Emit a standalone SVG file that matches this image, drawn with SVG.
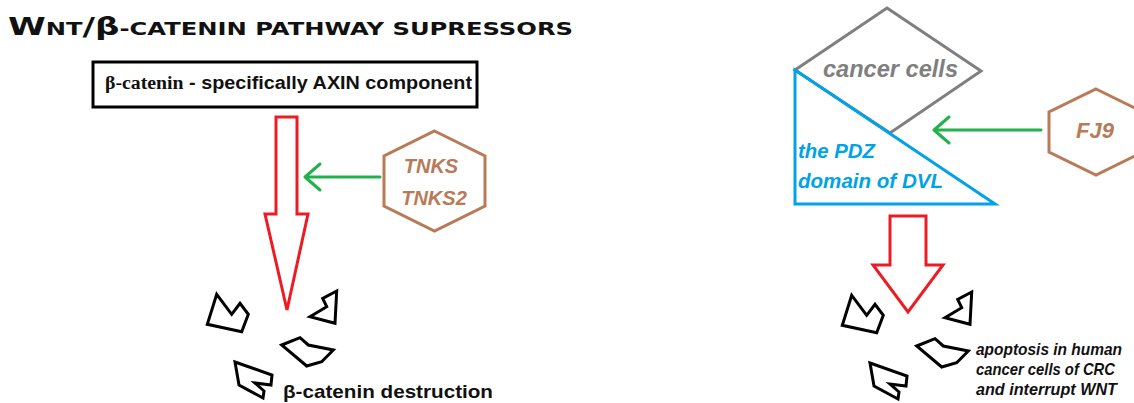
<svg xmlns="http://www.w3.org/2000/svg" width="1134" height="403" viewBox="0 0 1134 403">
<style>
.red{fill:none;stroke:#ed1c24;stroke-width:3;stroke-linejoin:miter}
.grn{fill:none;stroke:#22b14c;stroke-width:3;stroke-linecap:round;stroke-linejoin:round}
.hex{fill:none;stroke:#b97a57;stroke-width:3}
.pc{fill:none;stroke:#000;stroke-width:3;stroke-linejoin:miter}
.lbl{font-family:"Liberation Sans","Open Sans",sans-serif;font-weight:bold;font-style:italic}
.sans{font-family:"Liberation Sans","Open Sans",sans-serif;font-weight:bold}
</style>
<defs>
<g id="pieces" class="pc">
<polygon points="216.7,294.3 231.7,314.3 240,303.3 248.3,314.3 241.7,331.7 207.3,324.3"/>
<polygon points="336.7,291 322.7,298.3 326.7,306.7 310,316.7 335,323.3"/>
<polygon points="281.7,345 300,337.7 308.3,345 333.3,350 321.7,361.7 306.7,366"/>
<polygon points="235,362 272,375 271,385 255,383 264,391 263,398 239,385"/>
</g>
</defs>
<rect width="1134" height="403" fill="#fff"/>

<g id="title">
<text x="8" y="35" font-family="DejaVu Sans,sans-serif" font-weight="bold" fill="#111" textLength="565" lengthAdjust="spacingAndGlyphs"><tspan font-size="24">W</tspan><tspan font-size="17">NT</tspan><tspan font-size="24">/β</tspan><tspan font-size="17">-CATENIN PATHWAY SUPRESSORS</tspan></text>
</g>

<g id="node-axin">
<rect x="93" y="62" width="384" height="45" fill="#fff" stroke="#000" stroke-width="3"/>
<text x="105" y="89" font-size="18" fill="#111" textLength="367" lengthAdjust="spacingAndGlyphs"><tspan font-family="Liberation Serif,serif" font-weight="bold">β-catenin</tspan><tspan class="sans"> - specifically AXIN component</tspan></text>
</g>

<g id="node-tnks">
<polygon class="hex" points="434.5,131 485,156 485,206 434.5,231 384,206 384,156"/>
<text class="lbl" x="431" y="173" font-size="20" fill="#b97a57" text-anchor="middle">TNKS</text>
<text class="lbl" x="434" y="205" font-size="20" fill="#b97a57" text-anchor="middle">TNKS2</text>
</g>

<g id="node-destruction-left">
<use href="#pieces"/>
<text class="sans" x="283" y="398" font-size="19" fill="#111" textLength="210" lengthAdjust="spacingAndGlyphs">β-catenin destruction</text>
</g>

<g id="node-cancer-cells">
<polygon points="887,8 981,71 890,133 795,70" fill="none" stroke="#7f7f7f" stroke-width="3"/>
<text class="lbl" x="823" y="77" font-size="24" fill="#7f7f7f" textLength="135" lengthAdjust="spacingAndGlyphs">cancer cells</text>
</g>

<g id="node-pdz">
<polygon points="795,70 995,204 795,204" fill="none" stroke="#00a2e8" stroke-width="3"/>
<text class="lbl" x="798" y="158" font-size="20" fill="#00a2e8" textLength="77" lengthAdjust="spacingAndGlyphs">the PDZ</text>
<text class="lbl" x="798" y="188" font-size="20" fill="#00a2e8" textLength="145" lengthAdjust="spacingAndGlyphs">domain of DVL</text>
</g>

<g id="node-fj9">
<polygon class="hex" points="1096,89 1143,112 1143,152 1096,175 1049,152 1049,112"/>
<text class="lbl" x="1095" y="138" font-size="22" fill="#b97a57" text-anchor="middle">FJ9</text>
</g>

<g id="node-apoptosis">
<use href="#pieces" transform="translate(635,1)"/>
<text class="lbl" x="976" y="355" font-size="16.5" fill="#111" textLength="146" lengthAdjust="spacingAndGlyphs">apoptosis in human</text>
<text class="lbl" x="976" y="375" font-size="16.5" fill="#111" textLength="139" lengthAdjust="spacingAndGlyphs">cancer cells of CRC</text>
<text class="lbl" x="976" y="395" font-size="16.5" fill="#111" textLength="141" lengthAdjust="spacingAndGlyphs">and interrupt WNT</text>
</g>

<g id="connectors">
<polygon class="red" points="276,117 297,117 297,214 308,214 287,310 265,214 276,214"/>
<path class="grn" d="M380,177 H305 M320,164 L305,177 L320,190"/>
<polygon class="red" points="890,216 926,216 926,265 943,265 908,312 873,265 890,265"/>
<path class="grn" d="M1041,130 H934 M949,117 L934,130 L949,143"/>
</g>
</svg>
